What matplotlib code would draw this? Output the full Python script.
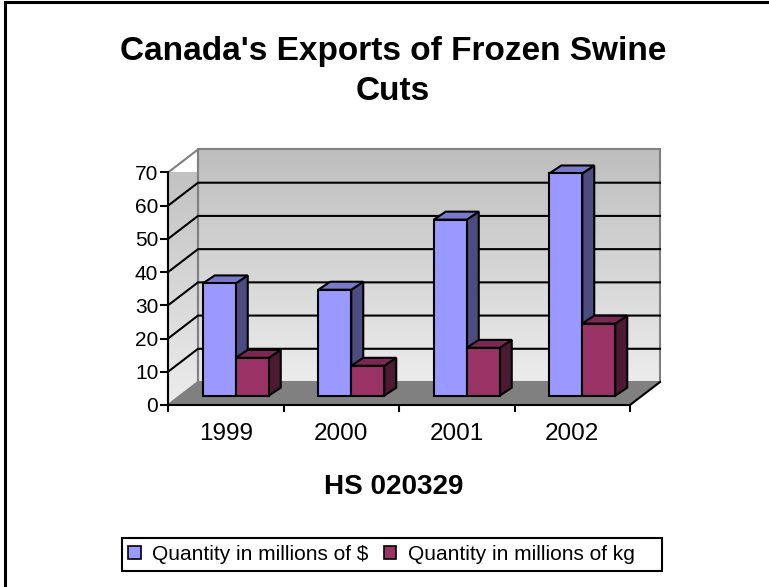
import numpy as np
import matplotlib.pyplot as plt
from matplotlib.patches import Polygon, Rectangle, Patch
from matplotlib.colors import LinearSegmentedColormap

plt.rcParams['font.family'] = ['Liberation Sans', 'DejaVu Sans']

years = ['1999', '2000', '2001', '2002']
dollars = [33.8, 31.9, 53.0, 66.9]
kilograms = [11.4, 9.0, 14.4, 21.7]
series_names = ['Quantity in millions of $', 'Quantity in millions of kg']
y_ticks = [0, 10, 20, 30, 40, 50, 60, 70]

W, H = 769, 587
fig = plt.figure(figsize=(W / 100, H / 100), dpi=100)


def px_box(x0, y0, x1, y1):
    # pixel box (origin top-left) -> figure fraction rect
    return [x0 / W, 1 - y1 / H, (x1 - x0) / W, (y1 - y0) / H]


ax = fig.add_axes(px_box(168, 172.5, 630, 405))
XPX = 462 / 4          # pixels per category
YPX = 232.5 / 70       # pixels per unit
DX, DY = 30 / XPX, 23 / YPX           # full depth of the floor
OFF, BY = 10 / XPX, 9.3 / YPX         # where the bars stand
BW = 33 / XPX                          # bar width
SX, SY = 12 / XPX, 8 / YPX             # bar depth

x0, x1 = -0.5, len(years) - 0.5
top = y_ticks[-1]
edge_grey = '#808080'

wall_cmap = LinearSegmentedColormap.from_list('wall', ['#ececec', '#bebebe'])
grad = np.linspace(0, 1, 256).reshape(-1, 1)

# back wall
ax.imshow(grad, cmap=wall_cmap, extent=[x0 + DX, x1 + DX, DY, top + DY],
          aspect='auto', origin='lower', zorder=0, clip_on=False)
ax.add_patch(Rectangle((x0 + DX, DY), x1 - x0, top, fill=False,
                       ec=edge_grey, lw=1.5, zorder=1, clip_on=False))

# left wall
side = Polygon([(x0, 0), (x0 + DX, DY), (x0 + DX, top + DY), (x0, top)],
               closed=True, fill=False, ec=edge_grey, lw=1.5, zorder=1, clip_on=False)
ax.add_patch(side)
im = ax.imshow(grad, cmap=wall_cmap, extent=[x0, x0 + DX, 0, top + DY],
               aspect='auto', origin='lower', zorder=0)
im.set_clip_path(side)
im.set_clip_box(None)

# floor
ax.add_patch(Polygon([(x0, 0), (x1, 0), (x1 + DX, DY), (x0 + DX, DY)], closed=True,
                     fc=edge_grey, ec='none', zorder=1, clip_on=False))
ax.plot([x1, x1 + DX], [0, DY], color='black', lw=1.5, zorder=6, clip_on=False)

# gridlines on both walls
for v in y_ticks[1:-1]:
    ax.plot([x0, x0 + DX, x1 + DX], [v, v + DY, v + DY], color='black',
            lw=1.5, zorder=2, clip_on=False)

# bars
series = [(dollars, '#9999ff', '#7a7acc', '#4c4c80'),
          (kilograms, '#993366', '#7a2952', '#4d1a33')]
xs = np.arange(len(years))
for k, (vals, front, lid, shade) in enumerate(series):
    left = xs + OFF - BW + k * BW
    ax.bar(left, vals, width=BW, bottom=BY, align='edge', color=front,
           edgecolor='black', linewidth=1.5, zorder=3 + k * 0.5 + 0.1, clip_on=False)
    for xl, v in zip(left, vals):
        xr = xl + BW
        ax.add_patch(Polygon([(xr, BY), (xr + SX, BY + SY), (xr + SX, BY + v + SY), (xr, BY + v)],
                             closed=True, fc=shade, ec='black', lw=1.5,
                             zorder=3 + k * 0.5, clip_on=False))
        ax.add_patch(Polygon([(xl, BY + v), (xl + SX, BY + v + SY), (xr + SX, BY + v + SY), (xr, BY + v)],
                             closed=True, fc=lid, ec='black', lw=1.5,
                             zorder=3 + k * 0.5, clip_on=False))

ax.set_xlim(x0, x1)
ax.set_ylim(0, top)
ax.set_facecolor('none')
for s in ['top', 'right']:
    ax.spines[s].set_visible(False)
for s in ['left', 'bottom']:
    ax.spines[s].set_linewidth(1.5)
    ax.spines[s].set_zorder(6)

ax.set_yticks(y_ticks)
ax.tick_params(axis='y', direction='out', length=6, width=1.5, labelsize=15, pad=1)
ax.set_xticks(xs)
ax.set_xticklabels(years)
ax.set_xticks(np.arange(len(years) + 1) - 0.5, minor=True)
ax.tick_params(axis='x', which='major', length=0, labelsize=17.5, pad=13)
ax.tick_params(axis='x', which='minor', direction='out', length=5, width=1.5)

fig.text(393 / W, 1 - 60 / H, "Canada's Exports of Frozen Swine", ha='center',
         va='baseline', fontsize=24, fontweight='bold')
fig.text(393 / W, 1 - 100 / H, 'Cuts', ha='center', va='baseline',
         fontsize=24, fontweight='bold')
fig.text(394 / W, 1 - 494 / H, 'HS 020329', ha='center', va='baseline',
         fontsize=20, fontweight='bold')

# legend frame and entries
fig.patches.append(Rectangle((122 / W, 1 - 571 / H), 540 / W, 33 / H, fill=False,
                             ec='black', lw=1.5, transform=fig.transFigure))
handles = [Patch(fc=c[1], ec='black', lw=1.2) for c in series]
fig.legend(handles, series_names, loc='center left', bbox_to_anchor=(128 / W, 1 - 554.5 / H),
           ncol=2, frameon=False, fontsize=15, handlelength=0.6, handleheight=0.6,
           handletextpad=0.55, columnspacing=0.75, borderpad=0, borderaxespad=0)

# outer chart border (top and left edges)
fig.add_artist(plt.Line2D([5 / W, 5 / W], [0, 1 - 2 / H], color='black', lw=2.2,
                          transform=fig.transFigure))
fig.add_artist(plt.Line2D([5 / W, 1], [1 - 2 / H, 1 - 2 / H], color='black', lw=2.2,
                          transform=fig.transFigure))

fig.savefig('out.png', dpi=100)
